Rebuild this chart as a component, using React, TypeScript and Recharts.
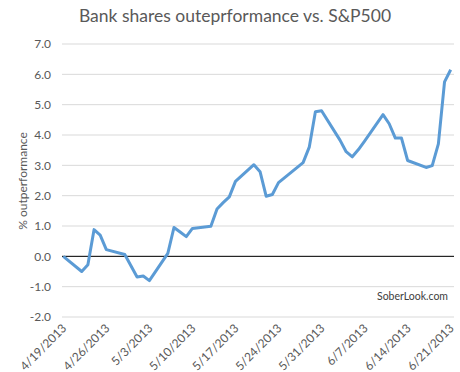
import { LineChart, Line, XAxis, YAxis, CartesianGrid, ReferenceLine } from 'recharts'

// trading days shown in the chart (m/d/yyyy)
const dates = [
  '4/19/2013', '4/22/2013', '4/23/2013', '4/24/2013', '4/25/2013', '4/26/2013',
  '4/29/2013', '4/30/2013', '5/1/2013', '5/2/2013', '5/3/2013',
  '5/6/2013', '5/7/2013', '5/8/2013', '5/9/2013', '5/10/2013',
  '5/13/2013', '5/14/2013', '5/15/2013', '5/16/2013', '5/17/2013',
  '5/20/2013', '5/21/2013', '5/22/2013', '5/23/2013', '5/24/2013',
  '5/28/2013', '5/29/2013', '5/30/2013', '5/31/2013',
  '6/3/2013', '6/4/2013', '6/5/2013', '6/6/2013', '6/7/2013',
  '6/10/2013', '6/11/2013', '6/12/2013', '6/13/2013', '6/14/2013',
  '6/17/2013', '6/18/2013', '6/19/2013', '6/20/2013', '6/21/2013',
]

// % outperformance of bank shares vs S&P500
const outperformance = [
  0.0, -0.5, -0.28, 0.88, 0.7, 0.22,
  0.06, -0.31, -0.68, -0.65, -0.8,
  0.1, 0.95, 0.8, 0.65, 0.92,
  0.99, 1.56, 1.77, 1.96, 2.47,
  3.02, 2.79, 1.98, 2.04, 2.43,
  3.09, 3.6, 4.77, 4.8,
  3.83, 3.45, 3.28, 3.52, 3.8,
  4.67, 4.37, 3.9, 3.9, 3.16,
  2.93, 2.99, 3.71, 5.75, 6.15,
]

const xTickLabels = [
  '4/19/2013', '4/26/2013', '5/3/2013', '5/10/2013', '5/17/2013',
  '5/24/2013', '5/31/2013', '6/7/2013', '6/14/2013', '6/21/2013',
]

const yTicks = [-2, -1, 0, 1, 2, 3, 4, 5, 6, 7]

const DAY = 86400000
const toDay = (s: string) => {
  const [m, d, y] = s.split('/').map(Number)
  return Date.UTC(y, m - 1, d) / DAY
}
const start = toDay(dates[0])
const fmtDay = (n: number) => {
  const dt = new Date((n + start) * DAY)
  return `${dt.getUTCMonth() + 1}/${dt.getUTCDate()}/${dt.getUTCFullYear()}`
}

const data = dates.map((d, i) => ({ day: toDay(d) - start, value: outperformance[i] }))
const xTicks = xTickLabels.map((d) => toDay(d) - start)

const grey = '#595959'
const font = 'Lato, sans-serif'

// slanted date label, its end sits just right of the tick
function DateTick({ x, y, payload }: any) {
  return (
    <g transform={`translate(${x + 4},${y + 4})`}>
      <text x={0} y={0} textAnchor="end" transform="rotate(-45)" fill={grey} fontSize={12} fontFamily={font}>
        {fmtDay(payload.value)}
      </text>
    </g>
  )
}

export default function App() {
  return (
    <div style={{ position: 'absolute', left: 0, top: 0, width: 460, height: 372, fontFamily: font, background: '#fff' }}>
      <div style={{ position: 'absolute', left: 0, top: 5, width: 470, textAlign: 'center', fontSize: 17.5, color: grey }}>
        Bank shares outeprformance vs. S&amp;P500
      </div>
      <div
        style={{
          position: 'absolute', left: 22, top: 181, fontSize: 12, color: grey, whiteSpace: 'nowrap',
          transform: 'translate(-50%, -50%) rotate(-90deg)',
        }}
      >
        % outperformance
      </div>
      <div style={{ position: 'absolute', right: 12, top: 290, fontSize: 10.5, color: '#404040' }}>SoberLook.com</div>
      <LineChart width={460} height={372} data={data} margin={{ top: 44, right: 6, bottom: 0, left: 0 }}>
        <CartesianGrid vertical={false} stroke="#d9d9d9" />
        <XAxis
          dataKey="day"
          type="number"
          domain={[-0.21, 63.54]}
          ticks={xTicks}
          interval={0}
          height={55}
          axisLine={false}
          tickLine={false}
          tick={<DateTick />}
        />
        <YAxis
          domain={[-2, 7]}
          ticks={yTicks}
          interval={0}
          width={62}
          axisLine={false}
          tickLine={false}
          tickMargin={5}
          tickFormatter={(v: number) => v.toFixed(1)}
          tick={{ fill: grey, fontSize: 12, fontFamily: font }}
        />
        <ReferenceLine y={0} stroke="#000" strokeWidth={1} />
        <Line
          type="linear"
          dataKey="value"
          stroke="#5b9bd5"
          strokeWidth={3}
          strokeLinejoin="round"
          dot={false}
          isAnimationActive={false}
        />
      </LineChart>
    </div>
  )
}
